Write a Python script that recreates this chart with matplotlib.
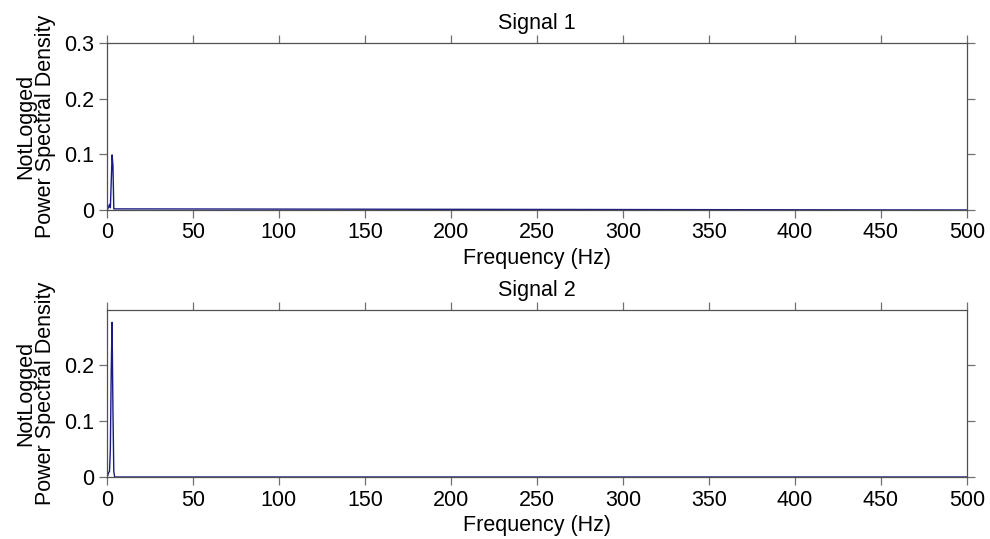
import numpy as np
import matplotlib.pyplot as plt
from matplotlib.ticker import FormatStrFormatter

plt.rcParams['font.family'] = ['Liberation Sans', 'DejaVu Sans']

# PSD of the two signals (only the low bins are non-zero)
freq1 = [0, 0.5, 1, 1.5, 2, 2.5, 3, 3.5, 4, 500]
psd1 = [0, 0.002, 0.006, 0.01, 0.004, 0.05, 0.099, 0.08, 0.002, 0]
freq2 = [0, 0.5, 1, 1.5, 2, 2.5, 3, 3.5, 4, 4.5, 500]
psd2 = [0, 0.003, 0.008, 0.01, 0.05, 0.19, 0.277, 0.12, 0.01, 0, 0]

titles = ['Signal 1', 'Signal 2']
xticks = [0, 50, 100, 150, 200, 250, 300, 350, 400, 450, 500]
yticks = [[0, 0.1, 0.2, 0.3], [0, 0.1, 0.2]]
ylims = [(0, 0.3), (0, 0.299)]

fs = 15.5
fig = plt.figure(figsize=(9.9, 5.39), dpi=100)
pos = [[0.108, 0.6104, 0.8687, 0.3098], [0.108, 0.1150, 0.8687, 0.3098]]
data = [(freq1, psd1), (freq2, psd2)]

for i in range(2):
    ax = fig.add_axes(pos[i])
    f, p = data[i]
    ax.plot(f, p, color='#1a1a85', lw=1)
    ax.set_xlim(0, 500)
    ax.set_ylim(*ylims[i])
    ax.set_xticks(xticks)
    ax.set_yticks(yticks[i])
    ax.yaxis.set_major_formatter(FormatStrFormatter('%g'))
    ax.tick_params(direction='out', length=6, width=0.9, color='#707070',
                   top=True, right=True, labelsize=fs, pad=3)
    for s in ax.spines.values():
        s.set_color('#505050')
        s.set_linewidth(0.9)
    ax.set_title(titles[i], fontsize=fs, pad=10)
    ax.set_xlabel('Frequency (Hz)', fontsize=fs, labelpad=3)
    ax.set_ylabel('NotLogged\nPower Spectral Density', fontsize=fs,
                  linespacing=0.95, labelpad=6)

fig.savefig('out.png', dpi=100)
